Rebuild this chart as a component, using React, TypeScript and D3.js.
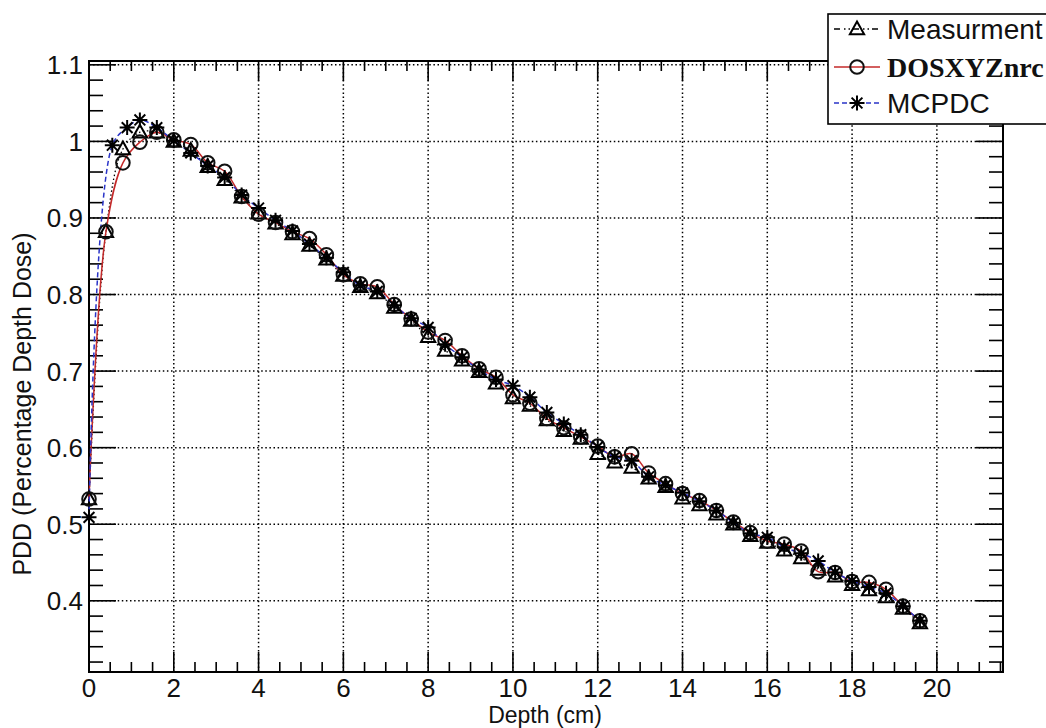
import React from "react";
import * as d3 from "d3";

const depth = [0, 0.4, 0.8, 1.2, 1.6, 2.0, 2.4, 2.8, 3.2, 3.6, 4.0, 4.4, 4.8, 5.2, 5.6, 6.0, 6.4, 6.8, 7.2, 7.6, 8.0, 8.4, 8.8, 9.2, 9.6, 10.0, 10.4, 10.8, 11.2, 11.6, 12.0, 12.4, 12.8, 13.2, 13.6, 14.0, 14.4, 14.8, 15.2, 15.6, 16.0, 16.4, 16.8, 17.2, 17.6, 18.0, 18.4, 18.8, 19.2, 19.6];

const measurement = [0.533, 0.882, 0.99, 1.012, 1.012, 1.0, 0.988, 0.967, 0.95, 0.927, 0.906, 0.893, 0.879, 0.864, 0.846, 0.825, 0.81, 0.802, 0.783, 0.766, 0.745, 0.727, 0.714, 0.699, 0.684, 0.665, 0.655, 0.636, 0.622, 0.612, 0.592, 0.581, 0.574, 0.56, 0.549, 0.534, 0.525, 0.513, 0.5, 0.485, 0.476, 0.466, 0.456, 0.441, 0.432, 0.421, 0.414, 0.405, 0.39, 0.371];

const dosxyz = [0.533, 0.882, 0.972, 0.999, 1.012, 1.002, 0.996, 0.972, 0.961, 0.928, 0.905, 0.894, 0.882, 0.873, 0.852, 0.826, 0.814, 0.81, 0.787, 0.768, 0.751, 0.74, 0.72, 0.703, 0.692, 0.669, 0.658, 0.638, 0.626, 0.614, 0.602, 0.588, 0.592, 0.567, 0.553, 0.54, 0.531, 0.518, 0.503, 0.489, 0.478, 0.474, 0.465, 0.438, 0.437, 0.425, 0.424, 0.415, 0.393, 0.374];

const mcpdcDepth = [0, 0.55, 0.9, 1.2, 1.6, 2.0, 2.4, 2.8, 3.2, 3.6, 4.0, 4.4, 4.8, 5.2, 5.6, 6.0, 6.4, 6.8, 7.2, 7.6, 8.0, 8.4, 8.8, 9.2, 9.6, 10.0, 10.4, 10.8, 11.2, 11.6, 12.0, 12.4, 12.8, 13.2, 13.6, 14.0, 14.4, 14.8, 15.2, 15.6, 16.0, 16.4, 16.8, 17.2, 17.6, 18.0, 18.4, 18.8, 19.2, 19.6];

const mcpdc = [0.509, 0.995, 1.018, 1.028, 1.018, 1.001, 0.985, 0.968, 0.953, 0.93, 0.913, 0.897, 0.883, 0.866, 0.848, 0.829, 0.812, 0.804, 0.786, 0.769, 0.757, 0.735, 0.718, 0.702, 0.689, 0.681, 0.666, 0.646, 0.631, 0.617, 0.601, 0.588, 0.583, 0.562, 0.551, 0.541, 0.53, 0.518, 0.502, 0.488, 0.483, 0.47, 0.462, 0.452, 0.437, 0.426, 0.418, 0.41, 0.393, 0.374];

const xTicks = [0, 2, 4, 6, 8, 10, 12, 14, 16, 18, 20];
const yTicks = [0.4, 0.5, 0.6, 0.7, 0.8, 0.9, 1.0, 1.1];
const yTickLabels = ["0.4", "0.5", "0.6", "0.7", "0.8", "0.9", "1", "1.1"];
const seriesNames = ["Measurment", "DOSXYZnrc", "MCPDC"];

const W = 1046, H = 728;
const L = 89, R = 1003, T = 61, B = 672;
const SANS = "'Liberation Sans', Arial, Helvetica, sans-serif";

const x = d3.scaleLinear().domain([0, 21.56]).range([L, R]);
const y = d3.scaleLinear().domain([0.307, 1.105]).range([B, T]);

function Triangle({ cx, cy, s = 7.5 }: { cx: number; cy: number; s?: number }) {
  const p = `M${cx},${cy - s} L${cx + s * 0.95},${cy + s * 0.7} L${cx - s * 0.95},${cy + s * 0.7} Z`;
  return <path d={p} fill="none" stroke="#000" strokeWidth={2} />;
}
function Circ({ cx, cy }: { cx: number; cy: number }) {
  return <circle cx={cx} cy={cy} r={6.8} fill="none" stroke="#111" strokeWidth={2} />;
}
function Star({ cx, cy, s = 7.5 }: { cx: number; cy: number; s?: number }) {
  const d = s * 0.72;
  const p = `M${cx - s},${cy}H${cx + s}M${cx},${cy - s}V${cy + s}M${cx - d},${cy - d}L${cx + d},${cy + d}M${cx - d},${cy + d}L${cx + d},${cy - d}`;
  return <path d={p} fill="none" stroke="#000" strokeWidth={2} />;
}

export default function App() {
  const line = d3
    .line<[number, number]>()
    .x((d) => x(d[0]))
    .y((d) => y(d[1]))
    .curve(d3.curveCatmullRom.alpha(0.5));

  const measPts: [number, number][] = depth.map((d, i) => [d, measurement[i]]);
  const dosPts: [number, number][] = depth.map((d, i) => [d, dosxyz[i]]);
  const mcPts: [number, number][] = mcpdcDepth.map((d, i) => [d, mcpdc[i]]);

  const xMinor = d3.range(0, 21.6, 0.5);
  const yMinor = d3.range(0.32, 1.105, 0.02);

  return (
    <svg width={W} height={H} style={{ position: "absolute", left: 0, top: 0, background: "#fff" }}>
      <rect x={0} y={0} width={W} height={H} fill="#fff" />
      {/* grid */}
      <g stroke="#000" strokeWidth={1.5} strokeDasharray="1.5 2.6">
        {xTicks.filter((t) => t > 0).map((t) => (
          <line key={"gx" + t} x1={x(t)} x2={x(t)} y1={B} y2={T} />
        ))}
        {yTicks.map((t) => (
          <line key={"gy" + t} x1={L} x2={R} y1={y(t)} y2={y(t)} />
        ))}
      </g>
      {/* ticks */}
      <g stroke="#000" strokeWidth={1.6}>
        {xMinor.map((t) => {
          const major = Math.abs(t / 2 - Math.round(t / 2)) < 1e-6;
          const len = major ? 20 : 10;
          return (
            <g key={"xt" + t}>
              <line x1={x(t)} x2={x(t)} y1={B} y2={B - len} />
              <line x1={x(t)} x2={x(t)} y1={T} y2={T + len} />
            </g>
          );
        })}
        {yMinor.map((t) => {
          const major = Math.abs(t * 10 - Math.round(t * 10)) < 1e-6;
          const len = major ? 27 : 14;
          return (
            <g key={"yt" + t.toFixed(2)}>
              <line x1={L} x2={L + len} y1={y(t)} y2={y(t)} />
              <line x1={R} x2={R - len} y1={y(t)} y2={y(t)} />
            </g>
          );
        })}
      </g>
      {/* frame */}
      <rect x={L} y={T} width={R - L} height={B - T} fill="none" stroke="#000" strokeWidth={2} />
      {/* tick labels */}
      <g fontFamily={SANS} fontSize={26} fill="#111">
        {xTicks.map((t) => (
          <text key={"xl" + t} x={x(t)} y={697} textAnchor="middle">
            {t}
          </text>
        ))}
        {yTicks.map((t, i) => (
          <text key={"yl" + t} x={83} y={y(t) + 9.5} textAnchor="end">
            {yTickLabels[i]}
          </text>
        ))}
      </g>
      <text x={545} y={722.5} textAnchor="middle" fontFamily={SANS} fontSize={23} fill="#111">
        Depth (cm)
      </text>
      <text
        transform="translate(31,404) rotate(-90)"
        textAnchor="middle"
        fontFamily={SANS}
        fontSize={25}
        fill="#111"
      >
        PDD (Percentage Depth Dose)
      </text>
      {/* series lines */}
      <path d={line(measPts) || ""} fill="none" stroke="#000" strokeWidth={1.3} strokeDasharray="1.5 2.5" />
      <path d={line(dosPts) || ""} fill="none" stroke="#c42a2a" strokeWidth={1.5} />
      <path d={line(mcPts) || ""} fill="none" stroke="#2a34c8" strokeWidth={1.5} strokeDasharray="5 3" />
      {/* markers */}
      {measPts.map((p, i) => (
        <Triangle key={"m" + i} cx={x(p[0])} cy={y(p[1])} />
      ))}
      {dosPts.map((p, i) => (
        <Circ key={"c" + i} cx={x(p[0])} cy={y(p[1])} />
      ))}
      {mcPts.map((p, i) => (
        <Star key={"s" + i} cx={x(p[0])} cy={y(p[1])} />
      ))}
      {/* legend */}
      <g>
        <rect x={828} y={14} width={240} height={110} fill="#fff" stroke="#000" strokeWidth={1.6} />
        <line x1={834} x2={880} y1={29} y2={29} stroke="#000" strokeWidth={1.4} strokeDasharray="6 4 1.5 3 1.5 3" />
        <Triangle cx={857} cy={29} />
        <text x={887} y={39} fontFamily={SANS} fontSize={28} fill="#111">{seriesNames[0]}</text>
        <line x1={834} x2={880} y1={67} y2={67} stroke="#c42a2a" strokeWidth={1.5} />
        <Circ cx={857} cy={67} />
        <text x={887} y={77} fontFamily="'Liberation Serif', 'Times New Roman', serif" fontWeight="bold" fontSize={28} fill="#111">{seriesNames[1]}</text>
        <line x1={834} x2={880} y1={103} y2={103} stroke="#2a34c8" strokeWidth={1.5} strokeDasharray="5 3" />
        <Star cx={857} cy={103} />
        <text x={887} y={113} fontFamily={SANS} fontSize={28} fill="#111">{seriesNames[2]}</text>
      </g>
    </svg>
  );
}
